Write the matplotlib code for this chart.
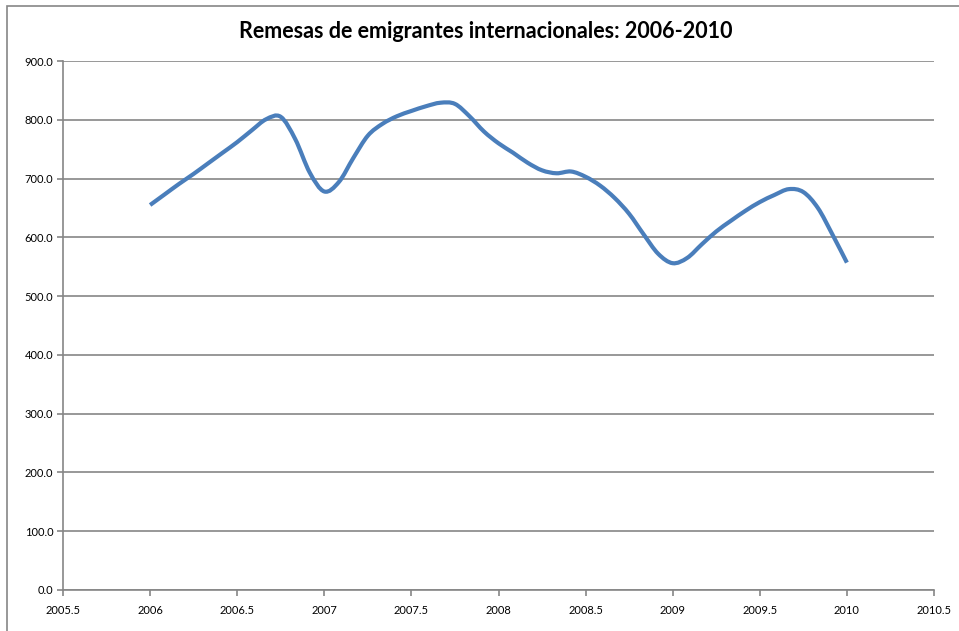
import matplotlib.pyplot as plt
from matplotlib.patches import Rectangle, PathPatch
from matplotlib.path import Path

plt.rcParams['font.family'] = ['Lato', 'DejaVu Sans']

# monthly values, 2006.0 .. 2010.0
years = [2006 + m / 12 for m in range(49)]
remesas = [655, 673, 691, 708, 726, 744, 762, 782, 801, 805, 767, 710,
           678, 694, 735, 773, 793, 806, 815, 823, 829, 827, 806, 780,
           760, 744, 727, 714, 709, 712, 703, 688, 667, 640, 605, 572,
           556, 565, 588, 610, 628, 645, 660, 672, 682, 677, 650, 605,
           557]

xticks = [2005.5, 2006, 2006.5, 2007, 2007.5, 2008, 2008.5, 2009, 2009.5, 2010, 2010.5]
xticklabels = ['2005.5', '2006', '2006.5', '2007', '2007.5', '2008', '2008.5',
               '2009', '2009.5', '2010', '2010.5']
yticks = [0, 100, 200, 300, 400, 500, 600, 700, 800, 900]


def smooth_path(xs, ys):
    # Excel-like smoothed line: cubic bezier segments through the points
    pts = list(zip(xs, ys))
    n = len(pts)
    verts = [pts[0]]
    codes = [Path.MOVETO]
    for i in range(n - 1):
        p0 = pts[i - 1] if i > 0 else pts[i]
        p1 = pts[i]
        p2 = pts[i + 1]
        p3 = pts[i + 2] if i + 2 < n else pts[i + 1]
        c1 = (p1[0] + (p2[0] - p0[0]) / 6, p1[1] + (p2[1] - p0[1]) / 6)
        c2 = (p2[0] - (p3[0] - p1[0]) / 6, p2[1] - (p3[1] - p1[1]) / 6)
        verts += [c1, c2, p2]
        codes += [Path.CURVE4] * 3
    return Path(verts, codes)


fig = plt.figure(figsize=(9.59, 6.31), dpi=100)
ax = fig.add_axes([63 / 959, 1 - 590 / 631, (934 - 63) / 959, (590 - 61) / 631])

grey = '#868686'
ax.add_patch(PathPatch(smooth_path(years, remesas), fill=False,
                       edgecolor='#4a7ebb', linewidth=3, capstyle='butt',
                       joinstyle='round', zorder=3))

ax.set_xlim(2005.5, 2010.5)
ax.set_ylim(0, 900)
ax.set_xticks(xticks)
ax.set_xticklabels(xticklabels)
ax.set_yticks(yticks)
ax.set_yticklabels(['%.1f' % v for v in yticks])
ax.tick_params(axis='both', labelsize=8, color=grey, length=4, width=1.2)
ax.tick_params(axis='x', pad=7)
ax.tick_params(axis='y', pad=3)

ax.grid(axis='y', color=grey, linewidth=1.2)
ax.set_axisbelow(True)
for side in ['top', 'right']:
    ax.spines[side].set_visible(False)
for side in ['left', 'bottom']:
    ax.spines[side].set_color(grey)
    ax.spines[side].set_linewidth(1.2)

fig.text(486 / 959, 1 - 31 / 631, 'Remesas de emigrantes internacionales: 2006-2010',
         ha='center', va='center', fontsize=15.5, fontweight='bold')

# chart area border
fig.patches.append(Rectangle((7 / 959, -0.1), 1.2, 1 - 6 / 631 + 0.1,
                             transform=fig.transFigure, fill=False,
                             edgecolor=grey, linewidth=1.2))

fig.savefig('out.png', dpi=100)
